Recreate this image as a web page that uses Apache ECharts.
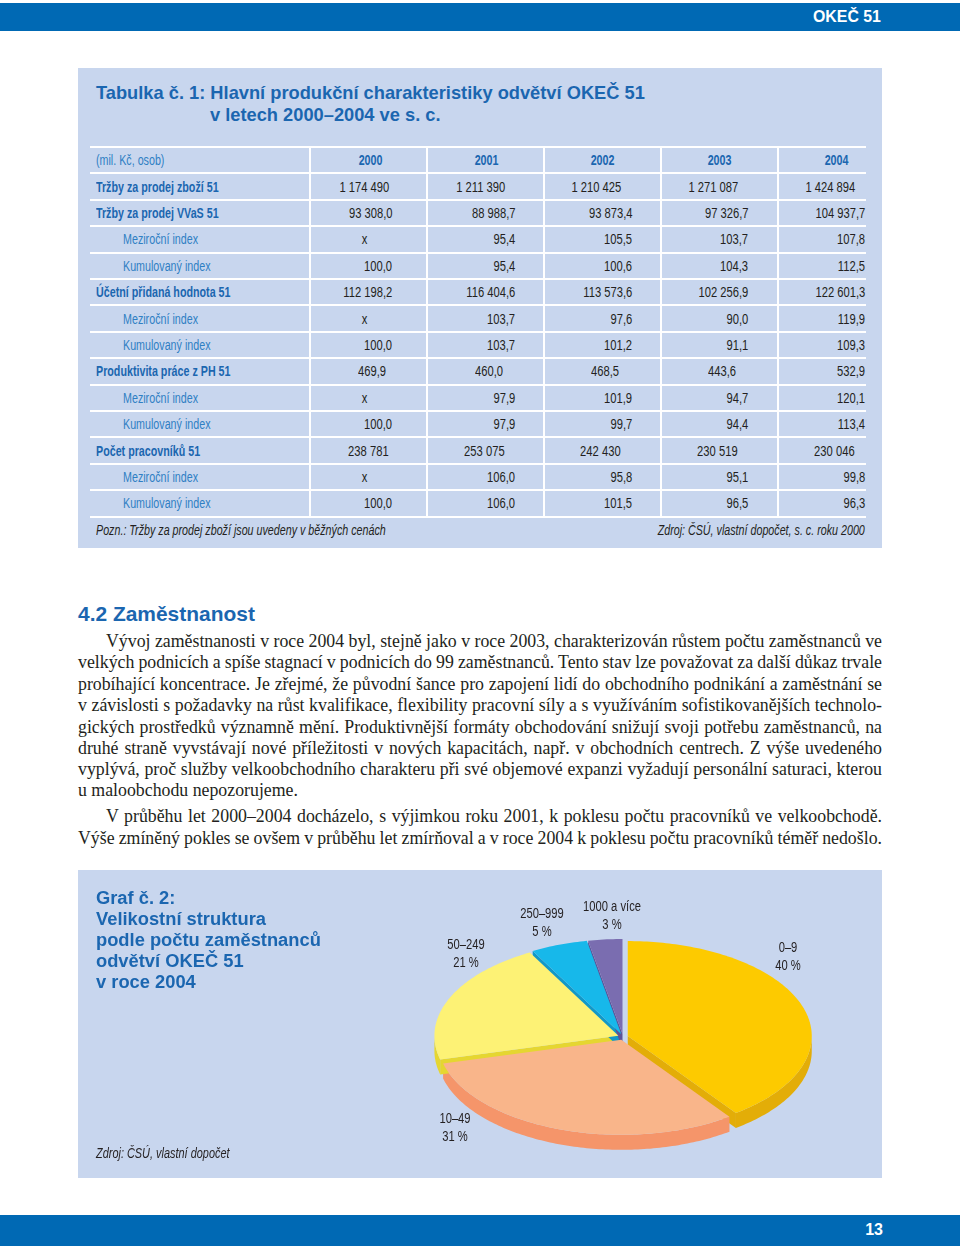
<!DOCTYPE html>
<html><head><meta charset="utf-8">
<script src="https://cdn.jsdelivr.net/npm/echarts@6/dist/echarts.min.js"></script>
<style>
html,body{margin:0;padding:0;background:#fff;}
body{width:960px;height:1246px;position:relative;overflow:hidden;font-family:'Liberation Sans',Arial,sans-serif;color:#231f20;}
.bar{position:absolute;left:0;width:960px;background:#0069b4;}
.panel{position:absolute;background:#c8d6ee;}
.t{position:absolute;white-space:nowrap;height:16px;line-height:16px;}
.t span{display:inline-block;}
.hl{position:absolute;background:#fff;height:2px;}
.vl{position:absolute;background:#fff;width:2px;}
.ln{position:absolute;white-space:nowrap;font-family:'Liberation Serif','Times New Roman',serif;text-align:justify;text-align-last:justify;height:20px;line-height:20px;color:#231f20;}
</style></head>
<body>
<div class="bar" style="top:3px;height:28px;"></div>
<div class="bar" style="top:1215px;height:31px;"></div>
<div class="panel" style="left:78px;top:68px;width:804px;height:480px;"></div>
<div id="pie" style="position:absolute;left:78px;top:870px;width:804px;height:308px;background:#c8d6ee;"></div>
<script>
// ---------- DATA ----------
const years = ["2000", "2001", "2002", "2003", "2004"];
const trzbyZbozi = [1174490, 1211390, 1210425, 1271087, 1424894];
const trzbyVVaS = [93308.0, 88988.7, 93873.4, 97326.7, 104937.7];
const vvasMezirocni = [null, 95.4, 105.5, 103.7, 107.8];
const vvasKumulovany = [100.0, 95.4, 100.6, 104.3, 112.5];
const pridanaHodnota = [112198.2, 116404.6, 113573.6, 102256.9, 122601.3];
const pridanaMezirocni = [null, 103.7, 97.6, 90.0, 119.9];
const pridanaKumulovany = [100.0, 103.7, 101.2, 91.1, 109.3];
const produktivita = [469.9, 460.0, 468.5, 443.6, 532.9];
const produktivitaMezirocni = [null, 97.9, 101.9, 94.7, 120.1];
const produktivitaKumulovany = [100.0, 97.9, 99.7, 94.4, 113.4];
const pocetPracovniku = [238781, 253075, 242430, 230519, 230046];
const pocetMezirocni = [null, 106.0, 95.8, 95.1, 99.8];
const pocetKumulovany = [100.0, 106.0, 101.5, 96.5, 96.3];

const pieCategories = ["0–9", "10–49", "50–249", "250–999", "1000 a více"];
const pieValues = [40, 31, 21, 5, 3];

// ---------- TABLE ----------
const rows = [
  {label: "Tržby za prodej zboží 51", main: true, vals: trzbyZbozi, dec: 0, edge: "int"},
  {label: "Tržby za prodej VVaS 51", main: true, vals: trzbyVVaS, dec: 1, edge: "dec"},
  {label: "Meziroční index", main: false, vals: vvasMezirocni, dec: 1, edge: "dec"},
  {label: "Kumulovaný index", main: false, vals: vvasKumulovany, dec: 1, edge: "dec"},
  {label: "Účetní přidaná hodnota 51", main: true, vals: pridanaHodnota, dec: 1, edge: "dec"},
  {label: "Meziroční index", main: false, vals: pridanaMezirocni, dec: 1, edge: "dec"},
  {label: "Kumulovaný index", main: false, vals: pridanaKumulovany, dec: 1, edge: "dec"},
  {label: "Produktivita práce z PH 51", main: true, vals: produktivita, dec: 1, edge: "prod"},
  {label: "Meziroční index", main: false, vals: produktivitaMezirocni, dec: 1, edge: "dec"},
  {label: "Kumulovaný index", main: false, vals: produktivitaKumulovany, dec: 1, edge: "dec"},
  {label: "Počet pracovníků 51", main: true, vals: pocetPracovniku, dec: 0, edge: "int"},
  {label: "Meziroční index", main: false, vals: pocetMezirocni, dec: 1, edge: "dec"},
  {label: "Kumulovaný index", main: false, vals: pocetKumulovany, dec: 1, edge: "dec"}
];
const EDGES = {int: [389, 505, 621, 738, 855], dec: [392, 515, 632, 748, 865], prod: [386, 503, 619, 736, 865]};
const HEAD_X = [371, 487, 603, 720, 837];
const X_MARK = 364;
const TOP = 147, PITCH = 26.4;
const FS = 14, COND = 0.765, CONDN = 0.80;
const BLUE = "#1b66b0", BLUE2 = "#2f7fc4";

function fmt(v, dec) {
  if (v == null) return "x";
  const s = v.toFixed(dec).split(".");
  const ip = s[0].replace(/\B(?=(\d{3})+(?!\d))/g, " ");
  return s[1] ? ip + "," + s[1] : ip;
}
function txt(str, x, y, align, opts) {
  opts = opts || {};
  const d = document.createElement("div");
  d.className = "t";
  const w = 600;
  d.style.top = (y - 8) + "px";
  if (align === "left") { d.style.left = x + "px"; }
  else if (align === "right") { d.style.left = (x - w) + "px"; d.style.width = w + "px"; d.style.textAlign = "right"; }
  else { d.style.left = (x - w / 2) + "px"; d.style.width = w + "px"; d.style.textAlign = "center"; }
  const s = document.createElement("span");
  s.textContent = str;
  s.style.fontSize = (opts.size || FS) + "px";
  s.style.fontWeight = opts.bold ? "bold" : "normal";
  if (opts.italic) s.style.fontStyle = "italic";
  s.style.color = opts.color || "#231f20";
  if (opts.family) s.style.fontFamily = opts.family;
  s.style.transform = "scaleX(" + (opts.scale || 1) + ")";
  s.style.transformOrigin = align === "left" ? "left center" : (align === "right" ? "right center" : "center center");
  d.appendChild(s);
  document.body.appendChild(d);
  return s;
}
function fitSize(str, family, weight, target) {
  const c = document.createElement("canvas").getContext("2d");
  c.font = weight + " 20px " + family;
  return 20 * target / c.measureText(str).width;
}

// header bar texts
const barFs = fitSize("OKEČ 51", "'Liberation Sans'", "bold", 68);
txt("OKEČ 51", 813, 17, "left", {bold: true, color: "#fff", size: barFs});
txt("13", 883, 1230, "right", {bold: true, color: "#fff", size: 16});

// table title
const ttl1 = "Tabulka č. 1: Hlavní produkční charakteristiky odvětví OKEČ 51";
const ttlFs = fitSize(ttl1, "'Liberation Sans'", "bold", 549);
txt(ttl1, 96, 93, "left", {bold: true, color: BLUE, size: ttlFs});
txt("v letech 2000–2004 ve s. c.", 210, 115, "left", {bold: true, color: BLUE, size: ttlFs});

// grid lines
for (let k = 0; k <= rows.length + 1; k++) {
  const l = document.createElement("div");
  l.className = "hl";
  l.style.left = "90px"; l.style.width = "776px";
  l.style.top = Math.round(TOP + PITCH * k - 1) + "px";
  document.body.appendChild(l);
}
[310, 427, 544, 661, 778].forEach(x => {
  const l = document.createElement("div");
  l.className = "vl";
  l.style.left = (x - 1) + "px"; l.style.top = TOP + "px";
  l.style.height = Math.round(PITCH * (rows.length + 1)) + "px";
  document.body.appendChild(l);
});

// header row
const yHead = TOP + PITCH * 0.5;
txt("(mil. Kč, osob)", 96, yHead, "left", {color: BLUE2, scale: COND});
years.forEach((yr, i) => txt(yr, HEAD_X[i], yHead, "center", {bold: true, color: BLUE, scale: COND}));

rows.forEach((r, k) => {
  const y = TOP + PITCH * (k + 1.5);
  txt(r.label, r.main ? 96 : 123, y, "left", {bold: r.main, color: r.main ? BLUE : BLUE2, scale: COND});
  r.vals.forEach((v, i) => {
    if (v == null) txt("x", X_MARK, y, "center", {scale: CONDN});
    else txt(fmt(v, r.dec), EDGES[r.edge][i], y, "right", {scale: CONDN});
  });
});
const yNote = TOP + PITCH * (rows.length + 1) + 13;
txt("Pozn.: Tržby za prodej zboží jsou uvedeny v běžných cenách", 96, yNote, "left", {italic: true, scale: COND});
txt("Zdroj: ČSÚ, vlastní dopočet, s. c. roku 2000", 865, yNote, "right", {italic: true, scale: COND});

// section heading
const headFs = fitSize("4.2 Zaměstnanost", "'Liberation Sans'", "bold", 177);
txt("4.2 Zaměstnanost", 78, 614, "left", {bold: true, color: BLUE, size: headFs});

// body text
const bodyLines = [
  [641, true, false, "Vývoj zaměstnanosti v roce 2004 byl, stejně jako v roce 2003, charakterizován růstem počtu zaměstnanců ve"],
  [662, false, false, "velkých podnicích a spíše stagnací v podnicích do 99 zaměstnanců. Tento stav lze považovat za další důkaz trvale"],
  [684, false, false, "probíhající koncentrace. Je zřejmé, že původní šance pro zapojení lidí do obchodního podnikání a zaměstnání se"],
  [705, false, false, "v závislosti s požadavky na růst kvalifikace, flexibility pracovní síly a s využíváním sofistikovanějších technolo-"],
  [727, false, false, "gických prostředků významně mění. Produktivnější formáty obchodování snižují svoji potřebu zaměstnanců, na"],
  [748, false, false, "druhé straně vyvstávají nové příležitosti v nových kapacitách, např. v obchodních centrech. Z výše uvedeného"],
  [769, false, false, "vyplývá, proč služby velkoobchodního charakteru při své objemové expanzi vyžadují personální saturaci, kterou"],
  [790, false, true, "u maloobchodu nepozorujeme."],
  [816, true, false, "V průběhu let 2000–2004 docházelo, s výjimkou roku 2001, k poklesu počtu pracovníků ve velkoobchodě."],
  [838, false, false, "Výše zmíněný pokles se ovšem v průběhu let zmírňoval a v roce 2004 k poklesu počtu pracovníků téměř nedošlo."]
];
const bodyFs = fitSize("u maloobchodu nepozorujeme.", "'Liberation Serif'", "normal", 220);
const mctx = document.createElement("canvas").getContext("2d");
mctx.font = bodyFs + "px 'Liberation Serif'";
bodyLines.forEach(([y, indent, last, s]) => {
  const d = document.createElement("div");
  d.className = "ln";
  const left = indent ? 106 : 78;
  d.style.left = left + "px";
  d.style.width = (882 - left) + "px";
  d.style.top = (y - 10) + "px";
  d.style.fontSize = bodyFs + "px";
  if (last) { d.style.textAlignLast = "left"; d.style.textAlign = "left"; }
  d.textContent = s;
  const nat = mctx.measureText(s).width;
  const avail = 882 - left;
  const spaces = (s.match(/ /g) || []).length;
  if (!last && nat > avail - 1) d.style.wordSpacing = (-(nat - avail + 2) / spaces) + "px";
  document.body.appendChild(d);
});

// ---------- PIE (ECharts custom series) ----------
const TOPC = ["#fdca00", "#f9b58a", "#fdf275", "#17b8ea", "#7a6db0"];
const SIDEC = ["#e3ad08", "#f5956a", "#e5d631", "#1298c7", "#5d5297"];
const PIE = {cx: 545, cy: 167, rx: 184, ry: 95, depth: 15, explode: 5};
const LABEL_OFF = [[165, -80], [-168, 91], [-157, -83], [-81, -114], [-11, -121]];

const total = pieValues.reduce((a, b) => a + b, 0);
const angles = [];
(function () { let acc = 0; pieValues.forEach(v => { angles.push([acc / total * 360, (acc + v) / total * 360]); acc += v; }); })();

function geom(i) {
  const [s, e] = angles[i];
  const mid = (s + e) / 2 * Math.PI / 180;
  const ox = PIE.explode * Math.sin(mid), oy = -PIE.explode * Math.cos(mid) * 0.6;
  const pt = (deg, dy) => {
    const r = deg * Math.PI / 180;
    return [PIE.cx + ox + PIE.rx * Math.sin(r), PIE.cy + oy - PIE.ry * Math.cos(r) + (dy || 0)];
  };
  const apex = (dy) => [PIE.cx + ox, PIE.cy + oy + (dy || 0)];
  const arc = (a, b, dy) => {
    const pts = [];
    const n = Math.max(2, Math.ceil(Math.abs(b - a)));
    for (let k = 0; k <= n; k++) pts.push(pt(a + (b - a) * k / n, dy));
    return pts;
  };
  return {s, e, pt, apex, arc};
}

function renderSides(params, api) {
  const i = params.dataIndex;
  const g = geom(i);
  const D = PIE.depth;
  const children = [];
  const fill = SIDEC[i];
  const cosd = d => Math.cos(d * Math.PI / 180);
  if (cosd(g.s - 90) < -0.01) {
    children.push({type: "polygon", shape: {points: [g.apex(), g.pt(g.s), g.pt(g.s, D), g.apex(D)]}, style: {fill}});
  }
  if (cosd(g.e + 90) < -0.01) {
    children.push({type: "polygon", shape: {points: [g.apex(), g.pt(g.e), g.pt(g.e, D), g.apex(D)]}, style: {fill}});
  }
  const a = Math.max(g.s, 90), b = Math.min(g.e, 270);
  if (a < b) {
    const pts = g.arc(a, b, 0).concat(g.arc(b, a, D));
    children.push({type: "polygon", shape: {points: pts}, style: {fill}});
  }
  return {type: "group", children};
}
function renderTops(params, api) {
  const i = params.dataIndex;
  const g = geom(i);
  const pts = [g.apex()].concat(g.arc(g.s, g.e, 0));
  const pct = Math.round(api.value(0) / total * 100);
  return {type: "group", children: [
    {type: "polygon", shape: {points: pts}, style: {fill: TOPC[i]}},
    {type: "text", x: PIE.cx + LABEL_OFF[i][0], y: PIE.cy + LABEL_OFF[i][1], scaleX: 0.8,
     style: {text: pieCategories[i] + "\n" + pct + " %", align: "center", verticalAlign: "middle",
             font: "14px 'Liberation Sans'", fill: "#231f20", lineHeight: 18}}
  ]};
}

const gTitleLines = ["Graf č. 2:", "Velikostní struktura", "podle počtu zaměstnanců", "odvětví OKEČ 51", "v roce 2004"];
const gFs = fitSize("podle počtu zaměstnanců", "'Liberation Sans'", "bold", 225);
const chart = echarts.init(document.getElementById("pie"));
const pieData = pieValues.map((v, i) => ({name: pieCategories[i], value: v}));
chart.setOption({
  animation: false,
  backgroundColor: "#c8d6ee",
  graphic: [
    {type: "text", left: 18, top: 18, style: {text: gTitleLines.join("\n"), font: "bold " + gFs.toFixed(2) + "px 'Liberation Sans'", fill: BLUE, lineHeight: 21}},
    {type: "text", left: 18, top: 277, scaleX: 0.78, style: {text: "Zdroj: ČSÚ, vlastní dopočet", font: "italic 14px 'Liberation Sans'", fill: "#231f20"}}
  ],
  series: [
    {type: "custom", coordinateSystem: "none", renderItem: renderSides, data: pieData, silent: true},
    {type: "custom", coordinateSystem: "none", renderItem: renderTops, data: pieData, silent: true}
  ]
});
</script>
</body></html>
